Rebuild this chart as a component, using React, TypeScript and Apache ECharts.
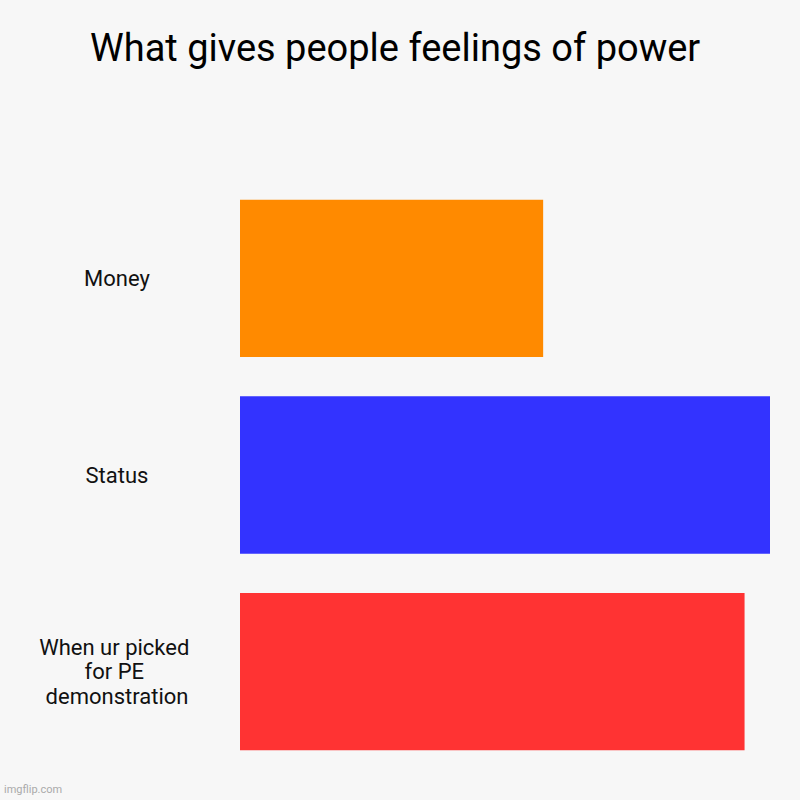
import React, { useEffect, useRef } from "react";
import * as echarts from "echarts";

const categories = ["Money", "Status", "When ur picked for PE demonstration"];
const values = [57.2, 100, 95.2];
const colors = ["#ff8a00", "#3333ff", "#ff3333"];
const titleText = "What gives people feelings of power";
const watermark = "imgflip.com";

export default function App() {
  const ref = useRef<HTMLDivElement>(null);
  useEffect(() => {
    document.body.style.margin = "0";
    const chart = echarts.init(ref.current!, null, { renderer: "svg" });
    chart.setOption({
      animation: false,
      backgroundColor: "#f7f7f7",
      title: {
        text: titleText,
        left: 90,
        top: 29,
        padding: 0,
        textStyle: {
          fontFamily: "Roboto",
          fontSize: 38,
          fontWeight: "normal",
          color: "#000",
        },
      },
      graphic: [
        {
          type: "text",
          left: 4,
          top: 784,
          style: {
            text: watermark,
            fontFamily: "Roboto",
            fontSize: 11,
            fill: "#aaaaaa",
          },
        },
      ],
      grid: { left: 240, right: 30, top: 180, height: 590, containLabel: false },
      xAxis: {
        type: "value",
        min: 0,
        max: 100,
        show: false,
      },
      yAxis: {
        type: "category",
        data: categories,
        inverse: true,
        axisLine: { show: false },
        axisTick: { show: false },
        splitLine: { show: false },
        axisLabel: {
          margin: 123,
          align: "center",
          width: 172,
          overflow: "break",
          lineHeight: 24.5,
          fontFamily: "Roboto",
          fontSize: 22,
          color: "#111",
        },
      },
      series: [
        {
          type: "bar",
          data: values.map((v, i) => ({ value: v, itemStyle: { color: colors[i] } })),
          barCategoryGap: "20%",
        },
      ],
    });
    return () => chart.dispose();
  }, []);
  return (
    <div
      ref={ref}
      style={{ position: "fixed", left: 0, top: 0, width: 800, height: 800 }}
    />
  );
}
